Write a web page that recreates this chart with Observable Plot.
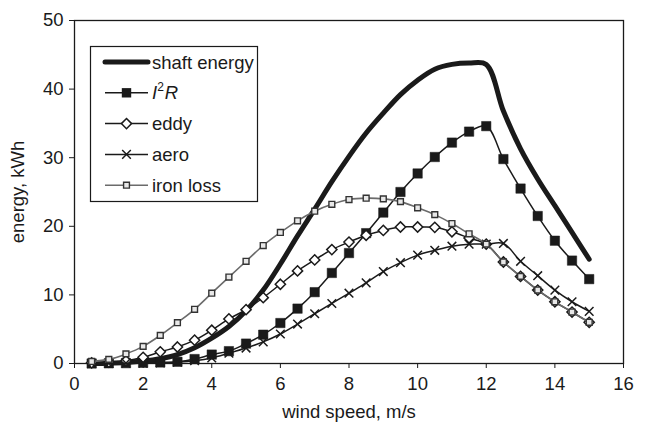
<!DOCTYPE html>
<html>
<head>
<meta charset="utf-8">
<script src="https://cdn.jsdelivr.net/npm/d3@7"></script>
<script src="https://cdn.jsdelivr.net/npm/@observablehq/plot@0.6"></script>
<style>
  html, body { margin: 0; padding: 0; background: #fff; }
  #chart { width: 647px; height: 423px; }
</style>
</head>
<body>
<div id="chart"></div>
<script>
const windSpeed = [0.5,1,1.5,2,2.5,3,3.5,4,4.5,5,5.5,6,6.5,7,7.5,8,8.5,9,9.5,10,10.5,11,11.5,12,12.5,13,13.5,14,14.5,15];
const shaftEnergy = [0.0,0.05,0.15,0.35,0.7,1.3,2.3,3.7,5.4,7.7,10.7,14.5,18.6,22.5,26.5,30.2,33.6,36.5,39.2,41.3,42.9,43.6,43.8,43.6,36.8,31.3,26.9,23.0,19.1,15.2];
const i2r = [0.0,0.03,0.05,0.1,0.15,0.25,0.65,1.3,1.8,2.9,4.2,5.9,8.0,10.4,13.2,16.1,19.0,22.0,25.0,27.7,30.1,32.2,33.8,34.6,29.8,25.5,21.5,17.9,15.0,12.3];
const eddy = [0.1,0.2,0.4,0.9,1.7,2.4,3.4,4.85,6.5,7.85,9.6,11.55,13.5,15.1,16.6,17.7,18.7,19.4,19.9,19.9,19.85,19.2,18.3,17.4,14.8,12.7,10.7,9.0,7.5,6.0];
const aero = [0.0,0.02,0.05,0.05,0.1,0.2,0.4,0.8,1.5,2.25,3.15,4.3,5.75,7.25,8.75,10.25,11.75,13.4,14.7,15.8,16.5,17.1,17.4,17.4,17.5,14.9,12.8,10.7,9.0,7.6];
const ironLoss = [0.3,0.6,1.4,2.5,4.1,5.95,7.9,10.25,12.6,14.9,17.2,19.1,20.8,22.2,23.2,23.9,24.1,24.0,23.6,22.7,21.7,20.4,18.9,17.4,14.8,12.7,10.7,9.0,7.5,6.0];
const xTicks = [0,2,4,6,8,10,12,14,16];
const yTicks = [0,10,20,30,40,50];
const seriesNames = ["shaft energy", "I2R", "eddy", "aero", "iron loss"];

const toRows = arr => windSpeed.map((x, i) => ({x, y: arr[i]}));
const font = "'Liberation Sans', Arial, Helvetica, sans-serif";
const ink = "#1a1a1a";
const fs = 18.5;

const plot = Plot.plot({
  width: 647,
  height: 423,
  marginLeft: 74,
  marginRight: 24,
  marginTop: 20,
  marginBottom: 60,
  style: {fontFamily: font, fontSize: fs + "px", color: ink, background: "#fff", overflow: "visible"},
  x: {domain: [0, 16]},
  y: {domain: [0, 50]},
  marks: [
    Plot.frame({stroke: ink, strokeWidth: 1.3}),
    Plot.axisX({ticks: xTicks, tickSize: 5, tickPadding: 8, tickFormat: d => String(d), label: "wind speed, m/s", labelAnchor: "center", labelOffset: 54, labelArrow: "none", fontSize: fs}),
    Plot.axisY({ticks: yTicks, tickSize: 5, tickPadding: 6, tickFormat: d => String(d), label: "energy, kWh", labelAnchor: "center", labelOffset: 64, labelArrow: "none", fontSize: fs}),
    // shaft energy
    Plot.line(toRows(shaftEnergy), {x: "x", y: "y", stroke: ink, strokeWidth: 5, curve: "catmull-rom"}),
    // I2R
    Plot.line(toRows(i2r), {x: "x", y: "y", stroke: ink, strokeWidth: 1.5, curve: "catmull-rom"}),
    Plot.dot(toRows(i2r), {x: "x", y: "y", symbol: "square", r: 5.3, fill: ink, stroke: ink, strokeWidth: 0.5}),
    // eddy
    Plot.line(toRows(eddy), {x: "x", y: "y", stroke: ink, strokeWidth: 1.5, curve: "catmull-rom"}),
    Plot.dot(toRows(eddy), {x: "x", y: "y", symbol: "diamond2", r: 4.6, fill: "#fff", stroke: ink, strokeWidth: 1.5}),
    // aero
    Plot.line(toRows(aero), {x: "x", y: "y", stroke: ink, strokeWidth: 1.5, curve: "catmull-rom"}),
    Plot.dot(toRows(aero), {x: "x", y: "y", symbol: "times", r: 4.0, stroke: ink, strokeWidth: 1.5}),
    // iron loss
    Plot.line(toRows(ironLoss), {x: "x", y: "y", stroke: "#6b6b6b", strokeWidth: 1.6, curve: "catmull-rom"}),
    Plot.dot(toRows(ironLoss), {x: "x", y: "y", symbol: "square", r: 3.3, fill: "#e8e8e8", stroke: "#333", strokeWidth: 1.4})
  ]
});

// Legend
const svg = d3.select(plot);
const lg = svg.append("g").attr("font-family", font).attr("font-size", fs).attr("fill", ink).attr("text-anchor", "start");
lg.append("rect").attr("x", 90.5).attr("y", 46.5).attr("width", 167).attr("height", 155)
  .attr("fill", "#fff").attr("stroke", ink).attr("stroke-width", 1.2);
const rowY = i => 62 + i * 30.8;
const x0 = 105, x1 = 148, xm = 126.5, tx = 152;
seriesNames.forEach((name, i) => {
  const y = rowY(i);
  const g = lg.append("g");
  if (i === 0) {
    g.append("line").attr("x1", x0).attr("x2", x1).attr("y1", y).attr("y2", y)
      .attr("stroke", ink).attr("stroke-width", 5).attr("stroke-linecap", "round");
  } else {
    g.append("line").attr("x1", x0).attr("x2", x1).attr("y1", y).attr("y2", y)
      .attr("stroke", i === 4 ? "#6b6b6b" : ink).attr("stroke-width", 1.5);
    const s = g.append("path").attr("transform", `translate(${xm},${y})`);
    if (i === 1) s.attr("d", d3.symbol(d3.symbolSquare, Math.PI * 5.3 * 5.3)()).attr("fill", ink);
    if (i === 2) s.attr("d", d3.symbol(d3.symbolDiamond2, Math.PI * 4.6 * 4.6)()).attr("fill", "#fff").attr("stroke", ink).attr("stroke-width", 1.5);
    if (i === 3) s.attr("d", d3.symbol(d3.symbolTimes, Math.PI * 4 * 4)()).attr("fill", "none").attr("stroke", ink).attr("stroke-width", 1.5);
    if (i === 4) s.attr("d", d3.symbol(d3.symbolSquare, Math.PI * 3.3 * 3.3)()).attr("fill", "#e8e8e8").attr("stroke", "#333").attr("stroke-width", 1.4);
  }
  const t = g.append("text").attr("x", tx).attr("y", y + 6.5);
  if (name === "I2R") {
    t.append("tspan").attr("font-style", "italic").text("I");
    t.append("tspan").attr("font-size", 12).attr("dy", -8).text("2");
    t.append("tspan").attr("font-style", "italic").attr("dy", 8).attr("dx", 1).text("R");
  } else {
    t.text(name);
  }
});

document.getElementById("chart").appendChild(plot);
</script>
</body>
</html>
